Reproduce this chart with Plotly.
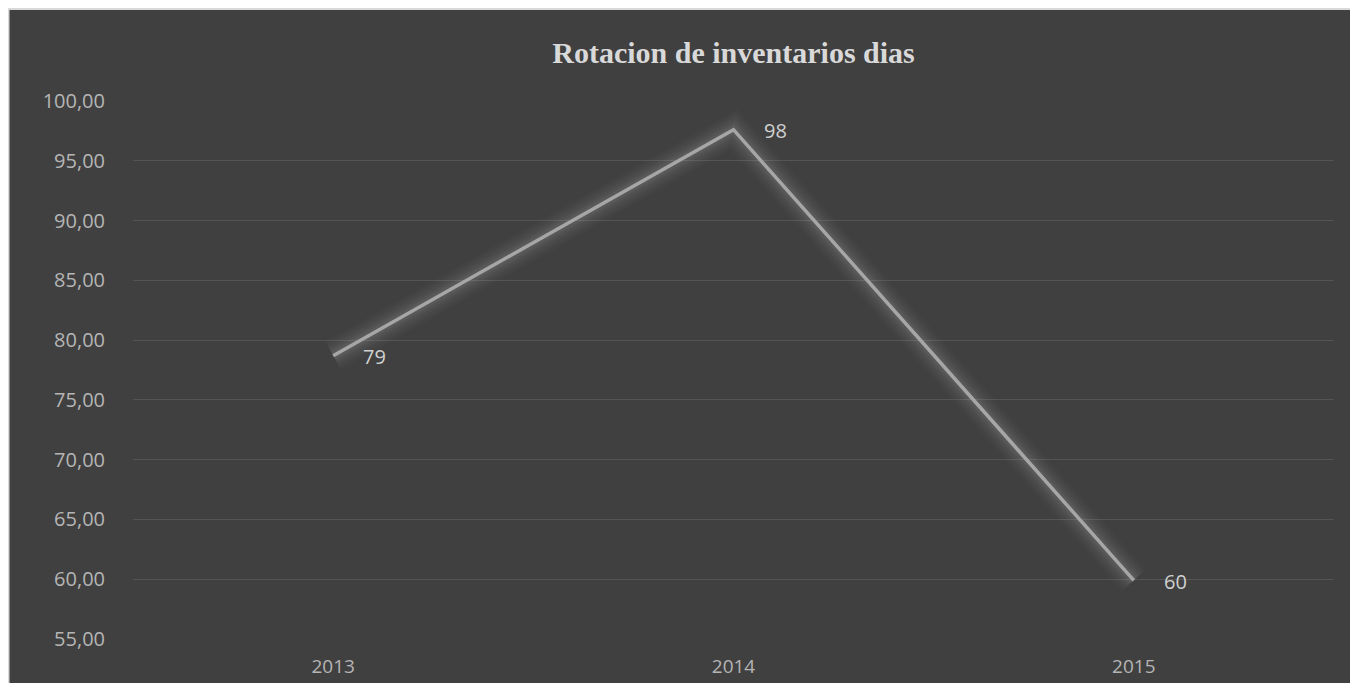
import plotly.graph_objects as go

years = ["2013", "2014", "2015"]
values = [78.7, 97.6, 59.9]
labels = ["79", "98", "60"]
title_text = "Rotacion de inventarios dias"

W, H = 1350, 675
L, R, T, B = 125, 24, 93, 44

FONT = "Open Sans, Liberation Sans, sans-serif"

fig = go.Figure()

# soft glow layers
for w, a in [(32, 0.018), (26, 0.022), (20, 0.028), (14, 0.035), (9, 0.045)]:
    fig.add_trace(go.Scatter(x=years, y=values, mode="lines",
                             line=dict(color=f"rgba(255,255,255,{a})", width=w),
                             hoverinfo="skip", showlegend=False))
fig.add_trace(go.Scatter(x=years, y=values, mode="lines",
                         line=dict(color="#a6a6a6", width=3.5),
                         showlegend=False))

for i, (v, t) in enumerate(zip(values, labels)):
    fig.add_annotation(x=i, y=v, xref="x", yref="y", text=t, showarrow=False,
                       xanchor="left", yanchor="middle", xshift=28, yshift=-1,
                       font=dict(family=FONT, size=20, color="#d0d0d0"))

pw, ph = W - L - R, H - T - B
# thin light border at top/left of the card
fig.add_shape(type="line", xref="paper", yref="paper",
              x0=-L / pw, x1=1 + R / pw,
              y0=1 + (T - 1) / ph, y1=1 + (T - 1) / ph,
              line=dict(color="#d9d9d9", width=2))
fig.add_shape(type="line", xref="paper", yref="paper",
              x0=-(L - 0.5) / pw, x1=-(L - 0.5) / pw,
              y0=-B / ph, y1=1 + T / ph,
              line=dict(color="#d9d9d9", width=2))

fig.update_layout(
    width=W, height=H,
    margin=dict(l=L, r=R, t=T, b=B, autoexpand=False),
    paper_bgcolor="#404040",
    plot_bgcolor="#404040",
    separators=",.",
    title=dict(text=f"<b>{title_text}</b>", x=0.5, xref="paper", xanchor="center",
               y=1 - 44 / H, yref="container", yanchor="middle",
               font=dict(family="Liberation Serif, Times New Roman, serif", size=30, color="#d9d9d9")),
    xaxis=dict(type="category", range=[-0.5, 2.5], showgrid=False, zeroline=False,
               showline=False, ticks="", ticklabelstandoff=14, automargin=False,
               tickfont=dict(family=FONT, size=19, color="#b5b5b5")),
    yaxis=dict(range=[55, 100], dtick=5, tick0=55, tickformat=".2f",
               showgrid=True, gridcolor="#545454", gridwidth=1, zeroline=False,
               showline=False, ticks="", ticklabelstandoff=27, automargin=False,
               tickfont=dict(family=FONT, size=20, color="#b5b5b5")),
)

fig.write_html("out.html")
